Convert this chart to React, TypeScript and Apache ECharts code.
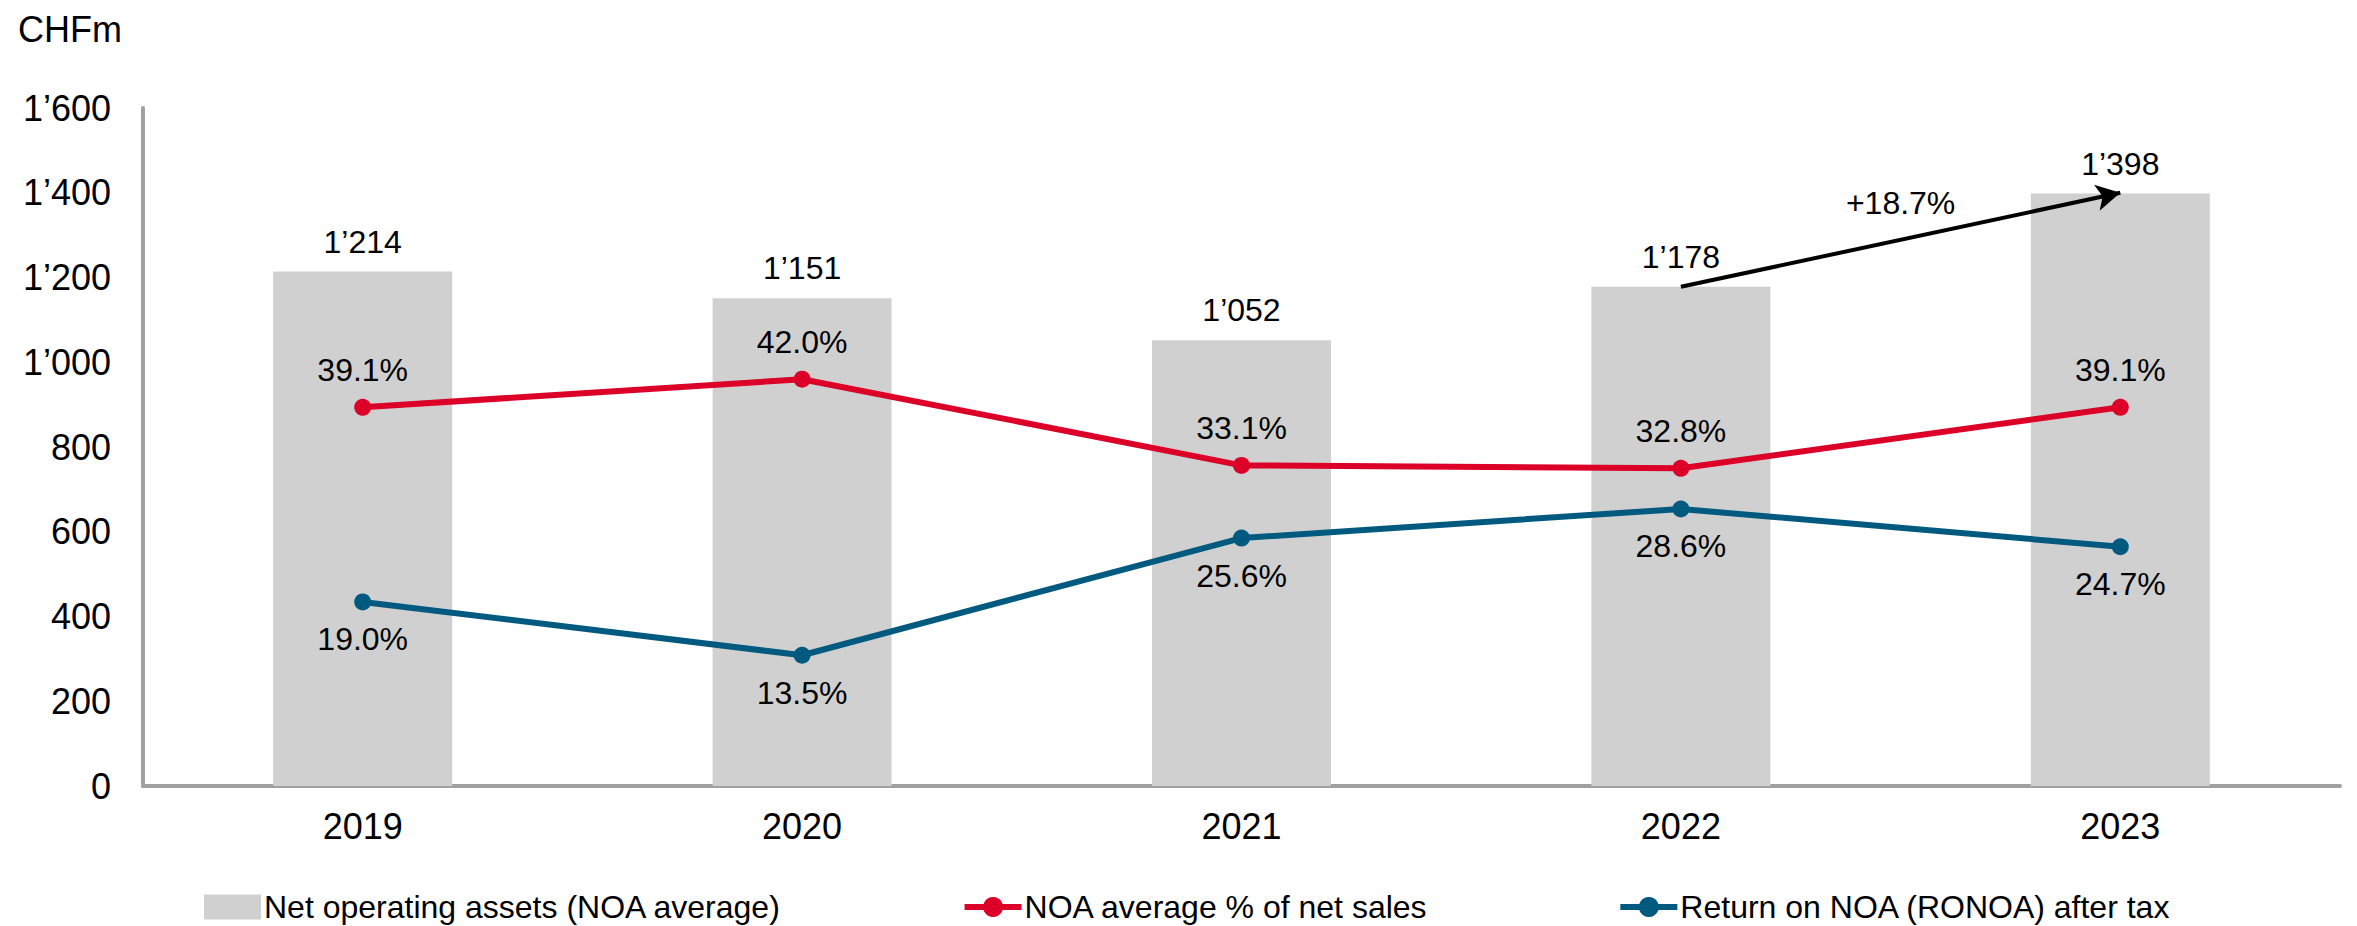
import React, { useEffect, useRef } from "react";
import * as echarts from "echarts";

const categories = ["2019", "2020", "2021", "2022", "2023"];
const noaValues = [1214, 1151, 1052, 1178, 1398];
const noaPctSales = [39.1, 42.0, 33.1, 32.8, 39.1];
const ronoa = [19.0, 13.5, 25.6, 28.6, 24.7];
const yTicks = { min: 0, max: 1600, interval: 200 };
const pctAxis = { min: 0, max: 70 };
const growthLabel = "+18.7%";
const arrowFrom = { cat: "2022", value: 1178 };
const arrowTo = { cat: "2023", value: 1400 };

const FONT = "'Liberation Sans', Arial, sans-serif";
const RED = "#dc0028";
const BLUE = "#005a80";
const GREY = "#d0d0d0";

function fmtThousands(v: number): string {
  const s = String(Math.round(v));
  return s.replace(/\B(?=(\d{3})+(?!\d))/g, "\u2019");
}

export default function App() {
  const ref = useRef<HTMLDivElement>(null);
  useEffect(() => {
    document.body.style.margin = "0";
    if (!ref.current) return;
    const chart = echarts.init(ref.current, null, { renderer: "svg" });
    chart.setOption({
      animation: false,
      textStyle: { fontFamily: FONT, color: "#000" },
      title: {
        text: "CHFm",
        left: 13,
        top: 6,
        textStyle: { fontSize: 36, fontWeight: "normal", color: "#000", fontFamily: FONT },
      },
      grid: { left: 143, right: 17, top: 108, bottom: 140, containLabel: false },
      legend: {
        left: 204,
        top: 891,
        padding: 0,
        itemGap: 180,
        itemWidth: 57,
        itemHeight: 25,
        textStyle: {
          fontSize: 32,
          lineHeight: 32,
          color: "#000",
          fontFamily: FONT,
          padding: [0, 0, 0, -2],
        },
        data: [
          { name: "Net operating assets (NOA average)", icon: "rect" },
          {
            name: "NOA average % of net sales",
            lineStyle: { width: 6 },
            textStyle: { padding: [0, 9, 0, -2] },
          },
          { name: "Return on NOA (RONOA) after tax", lineStyle: { width: 6 } },
        ],
      },
      xAxis: {
        type: "category",
        data: categories,
        axisLine: { show: true, lineStyle: { color: "#a0a0a0", width: 4 } },
        axisTick: { show: false },
        axisLabel: { fontSize: 36, color: "#000", margin: 22, fontFamily: FONT },
      },
      yAxis: [
        {
          type: "value",
          min: yTicks.min,
          max: yTicks.max,
          interval: yTicks.interval,
          splitLine: { show: false },
          axisLine: { show: true, lineStyle: { color: "#a0a0a0", width: 4 } },
          axisTick: { show: false },
          axisLabel: {
            fontSize: 36,
            color: "#000",
            margin: 32,
            fontFamily: FONT,
            formatter: (v: number) => fmtThousands(v),
          },
        },
        {
          type: "value",
          min: pctAxis.min,
          max: pctAxis.max,
          show: false,
          splitLine: { show: false },
        },
      ],
      series: [
        {
          name: "Net operating assets (NOA average)",
          type: "bar",
          data: noaValues,
          barWidth: 179,
          itemStyle: { color: GREY },
          label: {
            show: true,
            position: "top",
            distance: 14,
            fontSize: 32,
            color: "#000",
            fontFamily: FONT,
            formatter: (p: any) => fmtThousands(p.value),
          },
          markLine: {
            silent: true,
            symbol: ["none", "arrow"],
            symbolSize: [20, 24],
            lineStyle: { color: "#000", width: 4, type: "solid" },
            label: { show: false },
            data: [
              [
                { coord: [arrowFrom.cat, arrowFrom.value] },
                { coord: [arrowTo.cat, arrowTo.value] },
              ],
            ],
          },
        },
        {
          name: "NOA average % of net sales",
          type: "line",
          yAxisIndex: 1,
          data: noaPctSales,
          symbol: "circle",
          symbolSize: 17,
          lineStyle: { color: RED, width: 6 },
          itemStyle: { color: RED },
          label: {
            show: true,
            position: "top",
            distance: 13,
            fontSize: 32,
            color: "#000",
            fontFamily: FONT,
            formatter: (p: any) => p.value.toFixed(1) + "%",
          },
        },
        {
          name: "Return on NOA (RONOA) after tax",
          type: "line",
          yAxisIndex: 1,
          data: ronoa,
          symbol: "circle",
          symbolSize: 17,
          lineStyle: { color: BLUE, width: 6 },
          itemStyle: { color: BLUE },
          label: {
            show: true,
            position: "bottom",
            distance: 13,
            fontSize: 32,
            color: "#000",
            fontFamily: FONT,
            formatter: (p: any) => p.value.toFixed(1) + "%",
          },
        },
      ],
    });
    const p1 = chart.convertToPixel({ gridIndex: 0 }, [arrowFrom.cat, arrowFrom.value]) as number[];
    const p2 = chart.convertToPixel({ gridIndex: 0 }, [arrowTo.cat, arrowTo.value]) as number[];
    if (p1 && p2) {
      chart.setOption({
        graphic: [
          {
            type: "text",
            x: (p1[0] + p2[0]) / 2,
            y: (p1[1] + p2[1]) / 2 - 37,
            style: {
              text: growthLabel,
              fontSize: 32,
              fontFamily: FONT,
              fill: "#000",
              align: "center",
              verticalAlign: "middle",
            },
          },
        ],
      });
    }
    return () => chart.dispose();
  }, []);
  return <div ref={ref} style={{ width: 2357, height: 926 }} />;
}
